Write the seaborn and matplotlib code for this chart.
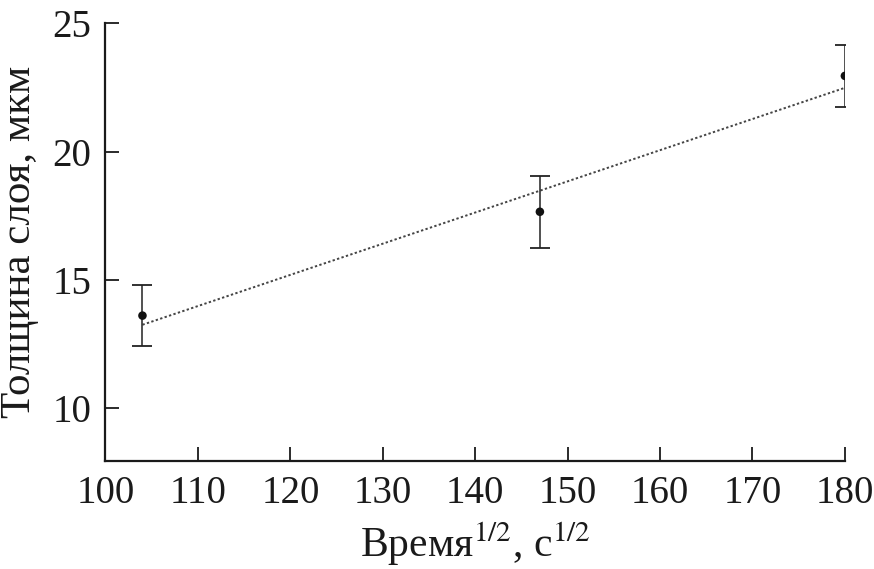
import numpy as np
import pandas as pd
import matplotlib
matplotlib.use("Agg")
import matplotlib.pyplot as plt
import seaborn as sns

# Data
time_sqrt = [104, 147, 180]
thickness = [13.6, 17.65, 22.95]
errors = [1.2, 1.4, 1.2]
x_ticks = [100, 110, 120, 130, 140, 150, 160, 170, 180]
y_ticks = [10, 15, 20, 25]

sns.set_theme(style="ticks")
plt.rcParams['font.family'] = ['Liberation Serif', 'DejaVu Serif']
plt.rcParams['mathtext.fontset'] = 'stix'

df = pd.DataFrame({"x": time_sqrt, "y": thickness, "err": errors})
slope, intercept = np.polyfit(df["x"], df["y"], 1)
fit = pd.DataFrame({"x": [min(time_sqrt), max(time_sqrt)]})
fit["y"] = slope * fit["x"] + intercept

fig = plt.figure(figsize=(8.74, 5.69), dpi=100)
ax = fig.add_axes([0.1207, 0.1903, 0.846, 0.7687])

sns.lineplot(data=fit, x="x", y="y", ax=ax, color="#444444",
             linestyle=(0, (1.2, 1.2)), linewidth=1.4)
ax.errorbar(df["x"], df["y"], yerr=df["err"], fmt="none", ecolor="#222222",
            elinewidth=1.1, capsize=7, capthick=1.3)
sns.scatterplot(data=df, x="x", y="y", ax=ax, color="#111111", s=38,
                edgecolor="none", zorder=5)

ax.set_xlim(100, 180)
ax.set_ylim(7.94, 25)
ax.set_xticks(x_ticks)
ax.set_yticks(y_ticks)
ax.tick_params(direction="in", length=10, width=1.3, labelsize=28, pad=10,
               colors="#1a1a1a")
for s in ["top", "right"]:
    ax.spines[s].set_visible(False)
for s in ["left", "bottom"]:
    ax.spines[s].set_linewidth(1.6)
    ax.spines[s].set_color("#1a1a1a")

ax.set_xlabel("Время$^{1/2}$, с$^{1/2}$", fontsize=30, color="#1a1a1a", labelpad=6)
ax.set_ylabel("Толщина слоя, мкм", fontsize=31, color="#1a1a1a", labelpad=10)

fig.savefig("out.png", dpi=100)
